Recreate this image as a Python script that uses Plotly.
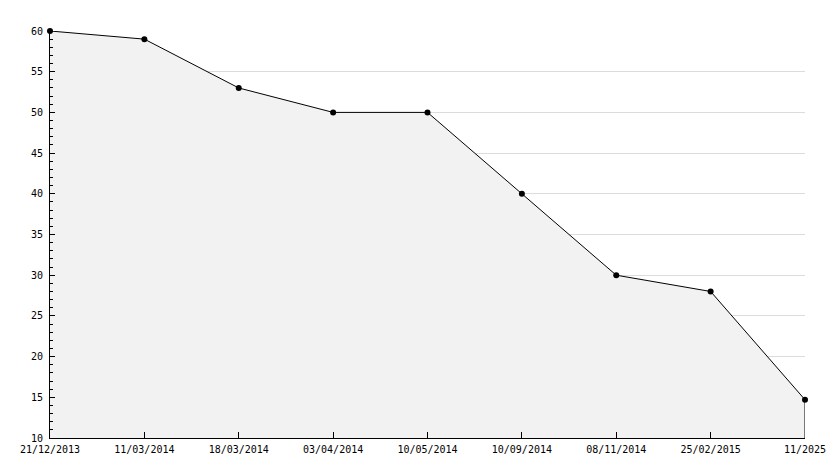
import plotly.graph_objects as go

dates = ["21/12/2013", "11/03/2014", "18/03/2014", "03/04/2014", "10/05/2014",
         "10/09/2014", "08/11/2014", "25/02/2015", "11/2025"]
values = [60, 59, 53, 50, 50, 40, 30, 28, 14.7]
y_ticks = [10, 15, 20, 25, 30, 35, 40, 45, 50, 55, 60]

FONT = dict(family="DejaVu Sans Mono, monospace", size=10, color="#000000")
GRID = "#dcdcdc"

fig = go.Figure(
    go.Scatter(
        x=dates,
        y=values,
        mode="lines+markers",
        fill="tozeroy",
        fillcolor="#f2f2f2",
        line=dict(color="#000000", width=1),
        marker=dict(symbol="circle", size=6, color="#000000"),
        cliponaxis=False,
        hoverinfo="x+y",
    )
)
# closing edge of the filled area at the last point
fig.add_shape(type="line", x0=dates[-1], x1=dates[-1], y0=y_ticks[0], y1=values[-1],
              line=dict(color="#000000", width=1), layer="above")

# page body adds an 8px offset, so margins are trimmed on top/left
fig.update_layout(
    width=834,
    height=468,
    font=FONT,
    plot_bgcolor="#ffffff",
    paper_bgcolor="#ffffff",
    showlegend=False,
    margin=dict(l=42, r=37, t=23, b=38, autoexpand=False),
    xaxis=dict(
        type="category",
        range=[0, len(dates) - 1],
        automargin=False,
        showgrid=False,
        showline=True,
        linecolor="#000000",
        linewidth=1,
        ticks="inside",
        ticklen=6,
        tickcolor="#000000",
        ticklabelstandoff=2,
        zeroline=False,
    ),
    yaxis=dict(
        range=[y_ticks[0], y_ticks[-1]],
        tickvals=y_ticks,
        automargin=False,
        showgrid=True,
        gridcolor=GRID,
        showline=True,
        linecolor="#000000",
        linewidth=1,
        ticks="inside",
        ticklen=5,
        tickcolor="#000000",
        ticklabelstandoff=4,
        zeroline=False,
        minor=dict(ticks="inside", dtick=1, ticklen=3, tickcolor="#000000", showgrid=False),
    ),
)

fig.write_html("out.html")
